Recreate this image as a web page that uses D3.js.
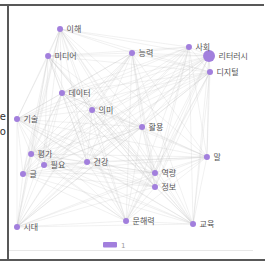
<!DOCTYPE html>
<html>
<head>
<meta charset="utf-8">
<script src="https://cdn.jsdelivr.net/npm/d3@7"></script>
<style>
  body { margin: 0; background: #fff; }
  svg { display: block; }
</style>
</head>
<body>
<div id="chart"></div>
<script>
// word network: layout coords in 0..100 units
let words = ["리터러시", "디지털", "사회", "능력", "이해", "미디어", "데이터", "의미", "기술", "활용",
  "평가", "필요", "글", "건강", "말", "역량", "정보", "시대", "문해력", "교육"];
let posX = [99.5, 100, 89.1, 59.6, 22.3, 16.1, 23.3, 38.9, 0, 64.8,
  7.3, 14, 3.1, 36.3, 98.4, 71.5, 71.5, 0, 56.5, 91.2];
let posY = [13.6, 21.7, 9.1, 12.1, 0, 13.6, 32.3, 40.9, 45.5, 49.5,
  63.1, 68.7, 73.2, 67.2, 64.6, 72.7, 79.8, 100, 97, 98.5];
let freq = [40, 10, 10, 10, 10, 10, 10, 10, 10, 10,
  10, 10, 10, 10, 10, 10, 10, 10, 10, 10];
let category = ["1"];

// links, listed per word (index of the other word)
let adjacency = [
  [1, 2, 3, 4, 5, 6, 7, 8, 9, 10, 11, 12, 13, 14, 15, 16, 17, 18, 19],
  [2, 3, 4, 5, 6, 7, 8, 9, 10, 11, 13, 14, 15, 16, 17, 18, 19],
  [3, 4, 5, 6, 7, 8, 9, 11, 13, 14, 15, 16, 17, 18, 19],
  [4, 5, 6, 7, 8, 9, 10, 11, 12, 13, 14, 15, 16, 17, 18, 19],
  [5, 6, 7, 8, 9, 10, 11, 12, 13, 14, 15, 16, 17, 18, 19],
  [6, 7, 8, 9, 10, 11, 12, 13, 15, 16, 17, 18, 19],
  [7, 8, 9, 10, 11, 12, 13, 14, 15, 16, 17, 18, 19],
  [8, 9, 10, 11, 12, 13, 14, 15, 16, 17, 18, 19],
  [9, 10, 11, 12, 13, 14, 15, 16, 17, 18, 19],
  [10, 11, 12, 13, 14, 15, 16, 17, 18, 19],
  [11, 12, 13, 14, 15, 16, 17, 18, 19],
  [12, 13, 14, 15, 16, 17, 18, 19],
  [13, 14, 15, 16, 17, 18, 19],
  [14, 15, 16, 17, 18, 19],
  [15, 16, 17, 18, 19],
  [16, 17, 18, 19],
  [17, 18, 19],
  [18, 19],
  [19],
  []
];

let width = 265, height = 261;
let nodeColor = "#a27fdd";

let svg = d3.select("#chart").append("svg")
  .attr("width", width)
  .attr("height", height);

// frame
svg.append("rect").attr("x", 0).attr("y", 4).attr("width", 264).attr("height", 2).attr("fill", "#585858");
svg.append("rect").attr("x", 7).attr("y", 4).attr("width", 2).attr("height", 257).attr("fill", "#585858");
svg.append("rect").attr("x", 0).attr("y", 259).attr("width", width).attr("height", 2).attr("fill", "#585858");
svg.append("line").attr("x1", 9).attr("x2", 253).attr("y1", 250.5).attr("y2", 250.5)
  .attr("stroke", "#e8e8e8").attr("stroke-width", 1);

// clipped text from neighbouring panel
svg.append("text").attr("x", 6).attr("y", 120).attr("text-anchor", "end")
  .attr("font-family", "DejaVu Sans, sans-serif").attr("font-size", 10).attr("fill", "#333").text("le");
svg.append("text").attr("x", 6).attr("y", 135).attr("text-anchor", "end")
  .attr("font-family", "DejaVu Sans, sans-serif").attr("font-size", 10).attr("fill", "#333").text("oo");

let x = d3.scaleLinear().domain([0, 100]).range([17, 210]);
let y = d3.scaleLinear().domain([0, 100]).range([29, 227]);
let r = d3.scaleSqrt().domain([0, 40]).range([0, 6]);

let nodes = words.map(function(w, i) {
  return { name: w, x: posX[i], y: posY[i], value: freq[i] };
});
let links = [];
adjacency.forEach(function(list, i) {
  list.forEach(function(j) { links.push({ source: nodes[i], target: nodes[j] }); });
});

let g = svg.append("g");

g.selectAll("line.link")
  .data(links)
  .enter().append("line")
  .attr("class", "link")
  .attr("x1", d => x(d.source.x))
  .attr("y1", d => y(d.source.y))
  .attr("x2", d => x(d.target.x))
  .attr("y2", d => y(d.target.y))
  .attr("stroke", "#bbb")
  .attr("stroke-opacity", 0.35)
  .attr("stroke-width", 0.6);

let node = g.selectAll("g.node")
  .data(nodes)
  .enter().append("g")
  .attr("class", "node")
  .attr("transform", d => "translate(" + x(d.x) + "," + y(d.y) + ")");

node.append("circle")
  .attr("r", d => r(d.value))
  .attr("fill", nodeColor);

node.append("text")
  .attr("x", d => r(d.value) + 3.5)
  .attr("y", 3)
  .attr("font-family", "Noto Sans CJK KR, sans-serif")
  .attr("font-size", 8)
  .attr("fill", "#555")
  .text(d => d.name);

// legend
let legend = svg.append("g").attr("transform", "translate(103,242)");
legend.selectAll("rect")
  .data(category)
  .enter().append("rect")
  .attr("width", 14).attr("height", 5.5).attr("rx", 1)
  .attr("fill", nodeColor);
legend.selectAll("text")
  .data(category)
  .enter().append("text")
  .attr("x", 18).attr("y", 5.5)
  .attr("font-family", "DejaVu Sans, sans-serif")
  .attr("font-size", 7).attr("fill", "#999")
  .text(d => d);
</script>
</body>
</html>
